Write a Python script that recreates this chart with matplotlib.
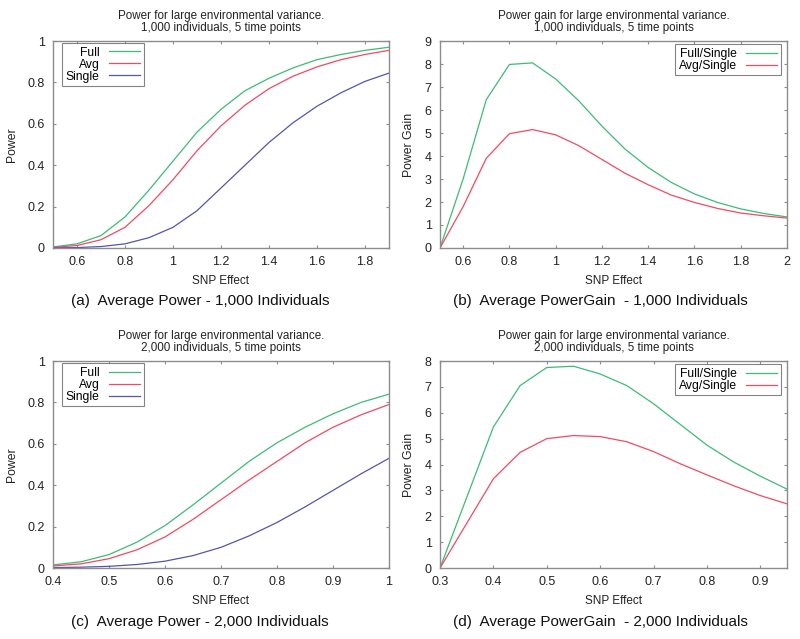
#!/usr/bin/env python3
"""Power / power gain curves for large environmental variance (4 panels)."""

import matplotlib
matplotlib.use('Agg')
import matplotlib.pyplot as plt

plt.rcParams['font.family'] = ['Liberation Sans', 'DejaVu Sans']

# ===== data =====
# (a) power, 1,000 individuals
snp_a = [0.5, 0.6, 0.7, 0.8, 0.9, 1.0, 1.1, 1.2, 1.3, 1.4, 1.5, 1.6, 1.7, 1.8, 1.9]
full_a = [0.005, 0.02, 0.06, 0.15, 0.28, 0.42, 0.56, 0.67, 0.76, 0.82, 0.87, 0.91, 0.935, 0.955, 0.97]
avg_a = [0.003, 0.012, 0.04, 0.10, 0.205, 0.33, 0.47, 0.59, 0.69, 0.77, 0.83, 0.875, 0.91, 0.935, 0.955]
single_a = [0.001, 0.002, 0.007, 0.02, 0.05, 0.10, 0.18, 0.29, 0.40, 0.51, 0.605, 0.685, 0.75, 0.805, 0.845]

# (b) power gain, 1,000 individuals
snp_b = [0.5, 0.6, 0.7, 0.8, 0.9, 1.0, 1.1, 1.2, 1.3, 1.4, 1.5, 1.6, 1.7, 1.8, 1.9, 2.0]
full_single_b = [0, 3.0, 6.45, 7.98, 8.05, 7.35, 6.4, 5.3, 4.3, 3.5, 2.85, 2.35, 1.98, 1.7, 1.5, 1.35]
avg_single_b = [0, 1.8, 3.9, 4.97, 5.15, 4.92, 4.45, 3.85, 3.25, 2.75, 2.3, 1.98, 1.72, 1.52, 1.4, 1.3]

# (c) power, 2,000 individuals
snp_c = [0.4, 0.45, 0.5, 0.55, 0.6, 0.65, 0.7, 0.75, 0.8, 0.85, 0.9, 0.95, 1.0]
full_c = [0.015, 0.03, 0.065, 0.125, 0.205, 0.305, 0.41, 0.515, 0.605, 0.68, 0.745, 0.80, 0.84]
avg_c = [0.01, 0.02, 0.045, 0.088, 0.15, 0.235, 0.33, 0.425, 0.515, 0.605, 0.68, 0.74, 0.79]
single_c = [0.002, 0.004, 0.008, 0.017, 0.033, 0.06, 0.10, 0.155, 0.22, 0.295, 0.375, 0.455, 0.53]

# (d) power gain, 2,000 individuals
snp_d = [0.3, 0.4, 0.45, 0.5, 0.55, 0.6, 0.65, 0.7, 0.75, 0.8, 0.85, 0.9, 0.95]
full_single_d = [0, 5.45, 7.05, 7.75, 7.8, 7.5, 7.05, 6.35, 5.55, 4.75, 4.1, 3.55, 3.05]
avg_single_d = [0, 3.45, 4.47, 5.0, 5.12, 5.08, 4.88, 4.5, 4.03, 3.6, 3.18, 2.8, 2.48]

GREEN = '#3dbb78'
RED = '#f24a62'
BLUE = '#5555aa'
FRAME = '#8c8c8c'


def style_axes(ax, title, ylabel):
    for sp in ax.spines.values():
        sp.set_color(FRAME)
        sp.set_linewidth(1.0)
    ax.tick_params(direction='in', length=2, color=FRAME, labelsize=9,
                   top=True, right=True, pad=6, labelcolor='#222222')
    ax.set_title(title, fontsize=8.4, color='#222222', pad=7, linespacing=1.05)
    ax.set_xlabel('SNP Effect', fontsize=8.5, labelpad=5, color='#222222')
    ax.set_ylabel(ylabel, fontsize=8.8, labelpad=7, color='#222222')


def add_legend(ax, loc, anchor):
    leg = ax.legend(loc=loc, bbox_to_anchor=anchor, borderaxespad=0,
                    fontsize=8.7, markerfirst=False, frameon=True,
                    fancybox=False, handlelength=2.6, handletextpad=0.75,
                    borderpad=0.3, labelspacing=0.0)
    leg.get_frame().set_edgecolor('#666666')
    leg.get_frame().set_linewidth(0.8)
    for t in leg.get_texts():
        t.set_ha('right')
    return leg


fig = plt.figure(figsize=(8, 6.39), dpi=100)
fig.patch.set_facecolor('white')

pos = {
    'a': [0.06625, 0.6119, 0.42, 0.3239],
    'b': [0.55, 0.6119, 0.43375, 0.3239],
    'c': [0.06625, 0.1111, 0.42, 0.3239],
    'd': [0.55, 0.1111, 0.43375, 0.3239],
}

# (a)
ax = fig.add_axes(pos['a'])
ax.plot(snp_a, full_a, color=GREEN, lw=0.9, label='Full')
ax.plot(snp_a, avg_a, color=RED, lw=0.9, label='Avg')
ax.plot(snp_a, single_a, color=BLUE, lw=0.9, label='Single')
ax.set_xlim(0.5, 1.9)
ax.set_ylim(0, 1)
ax.set_xticks([0.6, 0.8, 1.0, 1.2, 1.4, 1.6, 1.8])
ax.set_xticklabels(['0.6', '0.8', '1', '1.2', '1.4', '1.6', '1.8'])
ax.set_yticks([0, 0.2, 0.4, 0.6, 0.8, 1.0])
ax.set_yticklabels(['0', '0.2', '0.4', '0.6', '0.8', '1'])
style_axes(ax, 'Power for large environmental variance.\n1,000 individuals, 5 time points', 'Power')
add_legend(ax, 'upper left', (0.027, 0.99))

# (b)
ax = fig.add_axes(pos['b'])
ax.plot(snp_b, full_single_b, color=GREEN, lw=0.9, label='Full/Single')
ax.plot(snp_b, avg_single_b, color=RED, lw=0.9, label='Avg/Single')
ax.set_xlim(0.5, 2.0)
ax.set_ylim(0, 9)
ax.set_xticks([0.6, 0.8, 1.0, 1.2, 1.4, 1.6, 1.8, 2.0])
ax.set_xticklabels(['0.6', '0.8', '1', '1.2', '1.4', '1.6', '1.8', '2'])
ax.set_yticks(range(0, 10))
style_axes(ax, 'Power gain for large environmental variance.\n1,000 individuals, 5 time points', 'Power Gain')
add_legend(ax, 'upper right', (0.983, 0.985))

# (c)
ax = fig.add_axes(pos['c'])
ax.plot(snp_c, full_c, color=GREEN, lw=0.9, label='Full')
ax.plot(snp_c, avg_c, color=RED, lw=0.9, label='Avg')
ax.plot(snp_c, single_c, color=BLUE, lw=0.9, label='Single')
ax.set_xlim(0.4, 1.0)
ax.set_ylim(0, 1)
ax.set_xticks([0.4, 0.5, 0.6, 0.7, 0.8, 0.9, 1.0])
ax.set_xticklabels(['0.4', '0.5', '0.6', '0.7', '0.8', '0.9', '1'])
ax.set_yticks([0, 0.2, 0.4, 0.6, 0.8, 1.0])
ax.set_yticklabels(['0', '0.2', '0.4', '0.6', '0.8', '1'])
style_axes(ax, 'Power for large environmental variance.\n2,000 individuals, 5 time points', 'Power')
add_legend(ax, 'upper left', (0.027, 0.99))

# (d)
ax = fig.add_axes(pos['d'])
ax.plot(snp_d, full_single_d, color=GREEN, lw=0.9, label='Full/Single')
ax.plot(snp_d, avg_single_d, color=RED, lw=0.9, label='Avg/Single')
ax.set_xlim(0.3, 0.95)
ax.set_ylim(0, 8)
ax.set_xticks([0.3, 0.4, 0.5, 0.6, 0.7, 0.8, 0.9])
ax.set_yticks(range(0, 9))
style_axes(ax, 'Power gain for large environmental variance.\n2,000 individuals, 5 time points', 'Power Gain')
add_legend(ax, 'upper right', (0.983, 0.985))

# 子图标题 (centred under each half of the figure)
cap_kw = dict(fontsize=11, color='#111111', ha='center', va='center')
fig.text(200 / 800, 1 - 301 / 639, '(a)  Average Power - 1,000 Individuals', **cap_kw)
fig.text(600 / 800, 1 - 301 / 639, '(b)  Average PowerGain  - 1,000 Individuals', **cap_kw)
fig.text(200 / 800, 1 - 622 / 639, '(c)  Average Power - 2,000 Individuals', **cap_kw)
fig.text(600 / 800, 1 - 622 / 639, '(d)  Average PowerGain  - 2,000 Individuals', **cap_kw)

plt.savefig('out.png', dpi=100, facecolor=fig.get_facecolor())
plt.close()
